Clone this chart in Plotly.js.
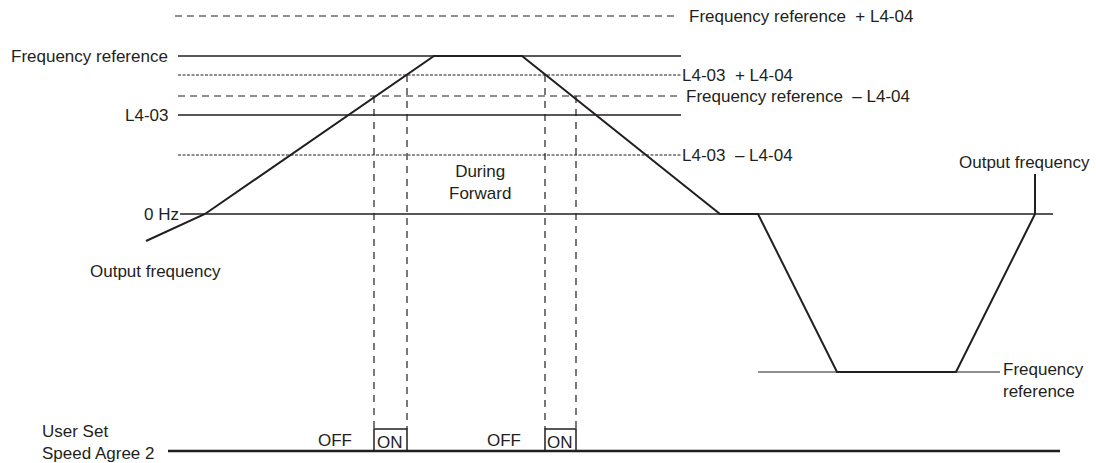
<!DOCTYPE html>
<html>
<head>
<meta charset="utf-8">
<script src="https://cdn.plot.ly/plotly-3.0.1.min.js"></script>
<style>html,body{margin:0;padding:0;background:#fff}#chart{width:1096px;height:463px}</style>
</head>
<body>
<div id="chart"></div>
<script>
// ---- data (time in diagram units, frequency in diagram units above 0 Hz) ----
const outputTime = [146, 205, 434, 522, 720, 758, 837, 956, 1035];
const outputFreq = [-27, 0, 158, 158, 0, 0, -158, -158, 0];
const freqRef = 158;
const L4_03 = 99;
const L4_04 = 40;
const refStart = 178, refEnd = 681;
const zeroStart = 180, zeroEnd = 1053;
const negRefStart = 758, negRefEnd = 1000;
const leaderTop = 40;               // leader line of right "Output frequency" label
// User Set Speed Agree 2 signal
const sigTime = [168, 374, 407, 545, 576, 1060];
const sigState = [0, 1, 0, 1, 0, 0];
const onWindows = [[374, 407], [545, 576]];
const onStartLevel = [freqRef - L4_04, L4_03 + L4_04];
const onEndLevel = [L4_03 + L4_04, freqRef - L4_04];
const sigBase = -237, sigAmp = 22;  // placement of the digital signal row

const C = '#231f20';
const traces = [];
function line(x, y, width, dash, color, shape) {
  traces.push({type: 'scatter', mode: 'lines', x: x, y: y, hoverinfo: 'skip',
    line: {color: color || C, width: width, dash: dash || 'solid', shape: shape || 'linear'}});
}
// reference levels
line([175, 678], [freqRef + L4_04, freqRef + L4_04], 1.2, '7px,5px');
line([refStart, refEnd], [freqRef, freqRef], 1.4);
line([refStart, refEnd], [L4_03 + L4_04, L4_03 + L4_04], 1.1, '3px,1.5px');
line([refStart, refEnd], [freqRef - L4_04, freqRef - L4_04], 1.2, '7px,5px');
line([refStart, refEnd], [L4_03, L4_03], 1.4);
line([refStart, refEnd], [L4_03 - L4_04, L4_03 - L4_04], 1.1, '3px,1.5px');
line([zeroStart, zeroEnd], [0, 0], 1.4);
line([negRefStart, negRefEnd], [-freqRef, -freqRef], 1.2);
// vertical dashed guides
onWindows.forEach(function (w, i) {
  line([w[0], w[0]], [onStartLevel[i], sigBase + sigAmp], 1.2, '7px,6px');
  line([w[1], w[1]], [onEndLevel[i], sigBase + sigAmp], 1.2, '7px,6px');
});
// signal
line([sigTime[0], sigTime[sigTime.length - 1]], [sigBase, sigBase], 2.4);
line(sigTime, sigState.map(function (s) { return sigBase + s * sigAmp; }), 1.5, 'solid', C, 'hv');
// output frequency
line(outputTime, outputFreq, 2);
line([outputTime[outputTime.length - 1], outputTime[outputTime.length - 1]], [0, leaderTop], 2);

const F = {family: 'Liberation Sans, Arial, sans-serif', size: 17, color: C};
function ann(text, x, y, xa, extra) {
  return Object.assign({text: text, x: x, y: y, xref: 'x', yref: 'y', xanchor: xa, yanchor: 'middle',
    showarrow: false, font: F}, extra || {});
}
const annotations = [
  ann('Frequency reference', 170, freqRef, 'right'),
  ann('L4-03', 170, L4_03, 'right'),
  ann('0 Hz', 181, 0, 'right'),
  ann('Output frequency', 155, -57, 'center'),
  ann('Frequency reference  + L4-04', 687, freqRef + L4_04, 'left'),
  ann('L4-03  + L4-04', 680, L4_03 + L4_04, 'left'),
  ann('Frequency reference  – L4-04', 684, freqRef - L4_04, 'left'),
  ann('L4-03  – L4-04', 680, L4_03 - L4_04, 'left'),
  ann('During<br>Forward', 480, 32, 'center', {align: 'center'}),
  ann('Output frequency', 1024, 52, 'center'),
  ann('Frequency<br>reference', 1001, -166, 'left', {align: 'left'}),
  ann('User Set<br>Speed Agree 2', 40, -228, 'left', {align: 'left'}),
  ann('OFF', 335, sigBase + 11, 'center'),
  ann('OFF', 504, sigBase + 11, 'center'),
  ann('ON', 390, sigBase + 9, 'center'),
  ann('ON', 560, sigBase + 9, 'center')
];

const layout = {
  width: 1096, height: 463,
  margin: {l: 0, r: 0, t: 0, b: 0},
  paper_bgcolor: '#fff', plot_bgcolor: '#fff',
  showlegend: false,
  xaxis: {range: [0, 1096], visible: false, fixedrange: true},
  yaxis: {range: [-249, 214], visible: false, fixedrange: true},
  annotations: annotations
};
Plotly.newPlot('chart', traces, layout, {staticPlot: true, displayModeBar: false});
</script>
</body>
</html>
